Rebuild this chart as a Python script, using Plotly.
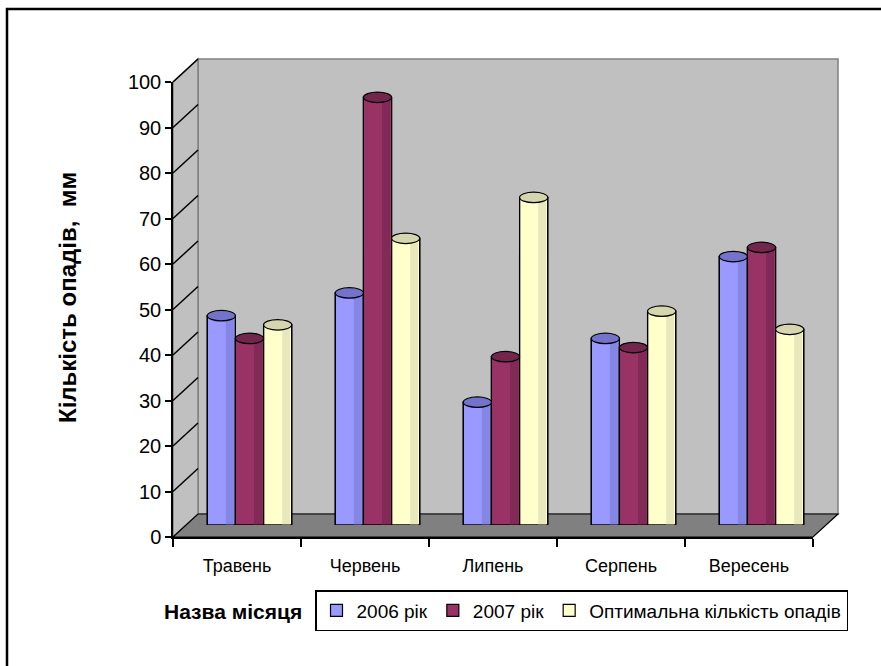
import plotly.graph_objects as go

# ---------------- data ----------------
months = ["Травень", "Червень", "Липень", "Серпень", "Вересень"]
series_names = ["2006 рік", "2007 рік", "Оптимальна кількість опадів"]
rain_2006 = [46, 51, 27, 41, 59]
rain_2007 = [41, 94, 37, 39, 61]
rain_optimal = [44, 63, 72, 47, 43]
y_ticks = list(range(0, 101, 10))

# ---------------- styling ----------------
W, H = 881, 666
FONT = "Liberation Sans, Arial, sans-serif"
body_colors = ["#9999FF", "#993366", "#FFFFCC"]
shade_colors = ["#8585E6", "#83295A", "#E8E8BC"]
cap_colors = ["#7373CC", "#73264D", "#D6D6AE"]
WALL = "#C0C0C0"
FLOOR = "#808080"


def px(x):
    return x / W


def py(y):
    return 1 - y / H


# pixel geometry of the pseudo-3D box
FX0, FX1, FY0, FY1 = 173, 813, 537, 82        # front plane (0 at FY0, 100 at FY1)
DX, DY = 25, -23                               # depth offset to back wall
MX, MY = DX / 2, DY / 2 - 0.5                  # mid plane (bars)

fig = go.Figure()

# invisible trace that anchors the front (labelled) axes
fig.add_trace(go.Scatter(
    x=months, y=rain_2006, mode="markers", marker=dict(opacity=0),
    showlegend=False, hoverinfo="skip", xaxis="x", yaxis="y",
))

all_series = [rain_2006, rain_2007, rain_optimal]
bar_w = 0.22
offsets = [-1.5 * bar_w, -0.5 * bar_w, 0.5 * bar_w]

for k, (name, vals) in enumerate(zip(series_names, all_series)):
    fig.add_trace(go.Bar(
        x=months, y=vals, name=name,
        width=bar_w, offset=offsets[k],
        marker=dict(color=body_colors[k], line=dict(color="black", width=1.2)),
        xaxis="x3", yaxis="y3", hoverinfo="skip",
    ))
    # darker right-hand shading strip of the cylinder
    fig.add_trace(go.Bar(
        x=months, y=vals, showlegend=False,
        width=bar_w * 0.28, offset=offsets[k] + bar_w * 0.66,
        marker=dict(color=shade_colors[k], line=dict(width=0)),
        xaxis="x3", yaxis="y3", hoverinfo="skip",
    ))
    # re-outline so the strip doesn't hide the border
    fig.add_trace(go.Bar(
        x=months, y=vals, showlegend=False,
        width=bar_w, offset=offsets[k],
        marker=dict(color="rgba(0,0,0,0)", line=dict(color="black", width=1.2)),
        xaxis="x3", yaxis="y3", hoverinfo="skip",
    ))

shapes = []
# outer frame (top and left only visible)
shapes.append(dict(type="path", xref="paper", yref="paper",
                   path=f"M {px(7)},{py(700)} L {px(7)},{py(9)} L {px(900)},{py(9)}",
                   line=dict(color="black", width=2.5), layer="below"))
# back wall
shapes.append(dict(type="rect", xref="paper", yref="paper",
                   x0=px(FX0 + DX), x1=px(FX1 + DX), y0=py(FY0 + DY), y1=py(FY1 + DY),
                   fillcolor=WALL, line=dict(color="#808080", width=1.5), layer="below"))
# left side wall
shapes.append(dict(type="path", xref="paper", yref="paper",
                   path=(f"M {px(FX0)},{py(FY0)} L {px(FX0)},{py(FY1)} "
                         f"L {px(FX0 + DX)},{py(FY1 + DY)} L {px(FX0 + DX)},{py(FY0 + DY)} Z"),
                   fillcolor=WALL, line=dict(color="#808080", width=1.5), layer="below"))
# floor
shapes.append(dict(type="path", xref="paper", yref="paper",
                   path=(f"M {px(FX0)},{py(FY0)} L {px(FX1)},{py(FY0)} "
                         f"L {px(FX1 + DX)},{py(FY0 + DY)} L {px(FX0 + DX)},{py(FY0 + DY)} Z"),
                   fillcolor=FLOOR, line=dict(color="black", width=1.2), layer="below"))
# diagonal gridlines on the side wall
for v in y_ticks[1:]:
    yf = FY0 + (FY1 - FY0) * v / 100
    shapes.append(dict(type="line", xref="paper", yref="paper",
                       x0=px(FX0), y0=py(yf), x1=px(FX0 + DX), y1=py(yf + DY),
                       line=dict(color="black", width=1.5), layer="below"))

# cylinder caps (ellipses) computed from the data on the bar axes
cap_h = 1.15
for k, vals in enumerate(all_series):
    for i, v in enumerate(vals):
        x0 = i + offsets[k]
        shapes.append(dict(type="circle", xref="x3", yref="y3",
                           x0=x0, x1=x0 + bar_w, y0=v - cap_h, y1=v + cap_h,
                           fillcolor=cap_colors[k], line=dict(color="black", width=1.2),
                           layer="above"))

annotations = [
    dict(text="<b>Кількість опадів,  мм</b>", textangle=-90, xref="paper", yref="paper",
         x=px(67), y=py(298), showarrow=False, xanchor="center", yanchor="middle",
         font=dict(family=FONT, size=24, color="black")),
    dict(text="<b>Назва місяця</b>", xref="paper", yref="paper",
         x=px(233), y=py(611), showarrow=False, xanchor="center", yanchor="middle",
         font=dict(family=FONT, size=21, color="black")),
]

fig.update_layout(
    width=W, height=H,
    margin=dict(l=0, r=0, t=0, b=0, pad=0, autoexpand=False),
    paper_bgcolor="white", plot_bgcolor="rgba(0,0,0,0)",
    barmode="overlay",
    font=dict(family=FONT, color="black"),
    showlegend=True,
    legend=dict(orientation="h", x=px(315), y=py(590), xanchor="left", yanchor="top",
                bordercolor="black", borderwidth=1.5, bgcolor="white",
                font=dict(family=FONT, size=19, color="black"),
                itemwidth=30, traceorder="normal"),
    # front axes (ticks, labels)
    xaxis=dict(domain=[px(FX0), px(FX1)], anchor="y", type="category",
               categoryorder="array", categoryarray=months,
               range=[-0.5, len(months) - 0.5], showgrid=False, zeroline=False,
               showline=True, linecolor="black", linewidth=1.5,
               ticks="outside", tickson="boundaries", ticklen=8, tickcolor="black", tickwidth=1.5,
               ticklabelstandoff=12, automargin=False,
               tickfont=dict(family=FONT, size=18, color="black"), fixedrange=True),
    yaxis=dict(domain=[py(FY0), py(FY1)], anchor="x", range=[0, 100],
               tickvals=y_ticks, showgrid=False, zeroline=False,
               showline=True, linecolor="black", linewidth=1.5,
               ticks="outside", ticklen=6, tickcolor="black", tickwidth=1.5, automargin=False,
               tickfont=dict(family=FONT, size=20, color="black"), fixedrange=True),
    # back wall gridlines
    xaxis2=dict(domain=[px(FX0 + DX), px(FX1 + DX)], anchor="y2", range=[-0.5, len(months) - 0.5],
                visible=False, showgrid=False, fixedrange=True),
    yaxis2=dict(domain=[py(FY0 + DY), py(FY1 + DY)], anchor="x2", range=[0, 100],
                tickvals=y_ticks, showgrid=True, gridcolor="black", gridwidth=1.5,
                zeroline=False, showticklabels=False, ticks="", showline=False, fixedrange=True),
    # mid-depth plane for the bars
    xaxis3=dict(domain=[px(FX0 + MX), px(FX1 + MX)], anchor="y3", type="category",
                categoryorder="array", categoryarray=months,
                range=[-0.5, len(months) - 0.5], visible=False, fixedrange=True),
    yaxis3=dict(domain=[py(FY0 + MY), py(FY1 + MY)], anchor="x3", range=[0, 100],
                visible=False, fixedrange=True),
    shapes=shapes,
    annotations=annotations,
)

fig.write_html("out.html")
